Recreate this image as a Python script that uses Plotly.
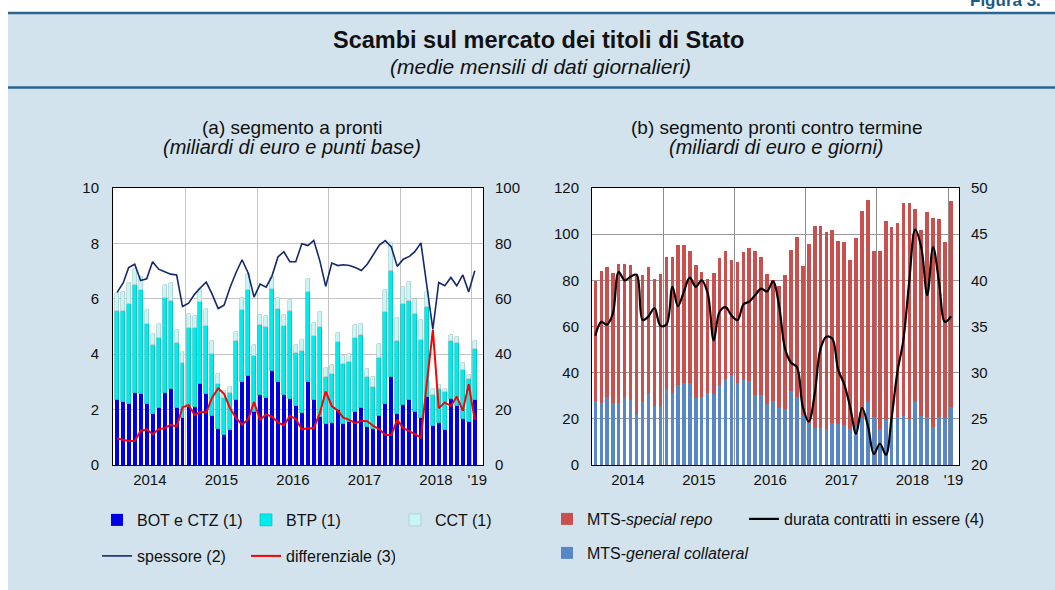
import plotly.graph_objects as go
import pandas as pd

W, H = 1055, 590

# ---------------- data ----------------
months = pd.date_range("2014-01-01", periods=61, freq="MS")
x_mid = months + pd.Timedelta(days=15)

# (a) segmento a pronti - miliardi di euro
bot_ctz = [2.33, 2.29, 2.20, 2.60, 2.57, 2.20, 1.84, 2.07, 2.60, 2.75, 2.04, 1.71,
           2.10, 2.10, 2.94, 2.57, 1.78, 1.30, 1.10, 1.27, 2.33, 2.98, 3.22, 1.90,
           2.53, 2.42, 3.40, 3.00, 2.53, 2.39, 2.13, 1.88, 3.00, 2.35, 1.75, 1.48,
           1.52, 1.99, 1.48, 1.55, 1.92, 2.06, 1.37, 1.29, 1.77, 2.20, 3.19, 1.85,
           2.17, 2.33, 1.93, 1.71, 2.46, 1.42, 1.52, 1.28, 2.39, 2.13, 1.67, 1.57, 2.33]
btp = [3.24, 3.28, 3.63, 3.89, 3.76, 2.90, 2.49, 2.50, 3.42, 3.18, 2.38, 1.99,
       2.85, 2.83, 2.94, 2.45, 2.24, 1.62, 1.32, 1.32, 2.14, 2.60, 3.11, 2.05,
       2.52, 2.58, 2.95, 2.63, 2.49, 3.16, 1.92, 2.25, 3.25, 2.32, 3.23, 1.70,
       1.78, 2.44, 2.16, 2.18, 2.68, 2.65, 1.81, 1.53, 2.09, 3.32, 3.82, 2.64,
       3.64, 3.59, 3.52, 2.82, 3.25, 1.11, 1.22, 1.35, 2.07, 2.27, 1.77, 1.52, 1.87]
cct = [0.63, 0.67, 0.74, 0.58, 0.47, 0.49, 0.40, 0.51, 0.47, 0.64, 0.45, 0.37,
       0.50, 0.46, 0.48, 0.61, 0.45, 0.37, 0.25, 0.24, 0.33, 0.46, 0.57, 0.38,
       0.36, 0.39, 0.43, 0.39, 0.39, 0.40, 0.28, 0.37, 0.46, 0.44, 0.56, 0.34,
       0.30, 0.35, 0.28, 0.27, 0.45, 0.37, 0.28, 0.35, 0.50, 0.79, 1.00, 0.81,
       0.61, 0.68, 0.54, 0.70, 0.53, 0.20, 0.14, 0.10, 0.24, 0.21, 0.24, 0.16, 0.27]
# punti base
spessore = [62.3, 65.7, 71.3, 72.5, 66.6, 67.2, 73.4, 70.7, 69.8, 68.9, 68.6, 57.2,
            58.4, 61.7, 63.9, 66.0, 61.7, 56.5, 57.7, 64.2, 69.6, 74.1, 69.3, 60.6,
            65.3, 64.2, 68.1, 75.1, 77.0, 73.4, 73.4, 79.9, 79.2, 81.1, 73.7, 64.5,
            72.9, 72.0, 72.3, 72.0, 71.3, 70.2, 72.5, 75.9, 79.4, 81.0, 78.7, 71.7,
            74.3, 75.3, 77.0, 80.2, 64.5, 49.0, 65.9, 64.7, 67.7, 64.7, 68.6, 62.5, 70.1]
differenziale = [9.6, 9.0, 8.7, 8.7, 12.3, 12.9, 11.1, 12.9, 13.3, 14.5, 13.9, 20.8,
                 21.7, 18.0, 19.2, 19.0, 24.3, 27.7, 25.7, 20.4, 16.9, 14.5, 16.5, 22.7,
                 16.3, 18.3, 17.5, 15.4, 14.3, 17.7, 16.7, 12.9, 13.3, 13.3, 18.7, 26.6,
                 21.3, 19.6, 17.1, 16.3, 15.1, 16.0, 15.8, 14.1, 12.9, 10.8, 10.8, 16.3,
                 13.3, 12.2, 11.2, 9.9, 29.5, 48.8, 20.5, 22.6, 21.3, 24.7, 19.6, 29.2, 16.3]

# (b) segmento pronti contro termine - miliardi di euro
general_collateral = [27.9, 26.7, 29.3, 26.7, 26.7, 29.2, 28.3, 22.1, 27.1, 30.6, 25.7, 25.7,
                      33.1, 31.2, 34.5, 35.4, 35.4, 29.2, 29.3, 31.0, 30.6, 34.5, 37.1, 38.8,
                      35.4, 36.8, 36.4, 30.3, 30.3, 26.4, 27.7, 24.5, 24.1, 32.1, 29.5, 21.5,
                      18.3, 15.9, 15.9, 15.6, 18.1, 17.9, 17.2, 15.7, 16.9, 20.4, 27.9, 20.6,
                      15.7, 19.9, 19.9, 20.9, 21.2, 19.8, 27.6, 21.2, 20.6, 16.6, 20.9, 20.2, 25.0]
special_repo = [51.8, 57.5, 56.6, 56.6, 60.4, 57.9, 58.3, 59.8, 55.2, 55.2, 54.7, 57.0,
                56.9, 58.8, 60.8, 59.9, 57.3, 57.3, 54.5, 49.4, 52.4, 55.2, 55.8, 50.0,
                52.4, 55.5, 57.8, 62.4, 59.7, 56.2, 52.4, 53.0, 58.1, 60.9, 69.1, 64.6,
                77.6, 87.6, 87.6, 85.2, 83.7, 79.1, 79.3, 73.1, 81.6, 89.8, 86.9, 72.3,
                77.0, 85.8, 83.1, 83.8, 92.2, 93.6, 83.4, 80.6, 89.0, 90.4, 85.5, 76.6, 89.4]
# giorni
durata = [34.0, 35.5, 35.2, 36.4, 40.9, 40.0, 40.4, 40.6, 35.7, 36.1, 37.0, 35.1,
          35.2, 39.3, 37.2, 38.8, 40.3, 39.3, 40.0, 38.6, 33.5, 36.6, 37.1, 36.2,
          35.7, 37.4, 37.7, 38.4, 39.1, 38.8, 39.9, 37.3, 32.6, 31.1, 30.6, 26.3,
          24.7, 27.8, 32.5, 33.9, 33.7, 30.3, 28.8, 26.3, 23.4, 26.2, 24.2, 21.2,
          22.3, 21.1, 24.9, 30.1, 33.5, 40.0, 45.5, 43.6, 38.4, 43.6, 39.7, 35.5, 36.1]

year_ticks = ["2014-07-02", "2015-07-02", "2016-07-02", "2017-07-02", "2018-07-02", "2019-01-29"]
year_labels = ["2014", "2015", "2016", "2017", "2018", "'19"]
year_bounds = ["2015-01-01", "2016-01-01", "2017-01-01", "2018-01-01", "2019-01-01"]

# ---------------- style ----------------
FONT = "Liberation Sans, Arial, Helvetica, sans-serif"
BG = "#d2e3ed"
RULE = "#2a6690"
TXT = "#111111"
DAY = 86400000


def px(p):
    return p / W


def py(p):
    return 1 - p / H


fig = go.Figure()

# left panel bars
fig.add_trace(go.Bar(x=x_mid, y=bot_ctz, name="BOT e CTZ (1)", marker=dict(color="#0000e6", line=dict(width=0)),
                     width=20 * DAY, xaxis="x", yaxis="y", legend="legend"))
fig.add_trace(go.Bar(x=x_mid, y=btp, name="BTP (1)", marker=dict(color="#00ecec", line=dict(width=0.6, color="#00b4b4")),
                     width=20 * DAY, xaxis="x", yaxis="y", legend="legend"))
fig.add_trace(go.Bar(x=x_mid, y=cct, name="CCT (1)", marker=dict(color="#c8f6f6", line=dict(width=0.6, color="#9cc4c4")),
                     width=20 * DAY, xaxis="x", yaxis="y", legend="legend"))
fig.add_trace(go.Scatter(x=x_mid, y=spessore, name="spessore (2)", mode="lines",
                         line=dict(color="#14286e", width=1.6), xaxis="x", yaxis="y2", legend="legend2"))
fig.add_trace(go.Scatter(x=x_mid, y=differenziale, name="differenziale (3)", mode="lines",
                         line=dict(color="#ff0000", width=2), xaxis="x", yaxis="y2", legend="legend2"))

# right panel
fig.add_trace(go.Bar(x=x_mid, y=general_collateral, name="MTS-<i>general collateral</i>",
                     marker=dict(color="#5787c6", line=dict(width=0)), legendwidth=220,
                     width=18 * DAY, xaxis="x2", yaxis="y3", legend="legend4"))
fig.add_trace(go.Bar(x=x_mid, y=special_repo, name="MTS-<i>special repo</i>",
                     marker=dict(color="#c8504f", line=dict(width=0)),
                     width=18 * DAY, xaxis="x2", yaxis="y3", legend="legend3"))
fig.add_trace(go.Scatter(x=x_mid, y=durata, name="durata contratti in essere (4)", mode="lines",
                         line=dict(color="#000000", width=2.2, shape="spline", smoothing=1),
                         legendwidth=240, xaxis="x2", yaxis="y4", legend="legend3"))

tickfont = dict(family=FONT, size=15, color=TXT)
left_dom_x = [px(113), px(483)]
right_dom_x = [px(592), px(959)]
dom_y = [py(465), py(188)]


def xaxis_cfg(domain, anchor, rng, gridcol):
    return dict(domain=domain, anchor=anchor, type="date", range=rng, automargin=False,
                tickmode="array", tickvals=year_ticks, ticktext=year_labels,
                showgrid=False, ticks="", ticklabelstandoff=1,
                minor=dict(tickvals=year_bounds, showgrid=True, gridcolor=gridcol, gridwidth=1, ticks=""),
                showline=True, linecolor="#000000", linewidth=1, mirror=True,
                tickfont=tickfont, zeroline=False, fixedrange=True)


fig.update_layout(
    template="none",
    width=W, height=H,
    margin=dict(l=0, r=0, t=0, b=0, pad=0),
    paper_bgcolor=BG, plot_bgcolor="#ffffff",
    barmode="stack", bargap=0,
    font=dict(family=FONT, size=15, color=TXT),
    showlegend=True,
    title=dict(text="<b>Figura 3.</b>", xref="container", yref="container", x=px(970), xanchor="left",
               y=1.0, yanchor="middle", automargin=False, font=dict(family=FONT, size=17, color="#1d5a86")),
    xaxis=xaxis_cfg(left_dom_x, "y", ["2013-12-26", "2019-02-27"], "#c4c4c4"),
    yaxis=dict(domain=dom_y, anchor="x", range=[0, 10], dtick=2, tick0=0, automargin=False,
               showgrid=True, gridcolor="#c4c4c4", gridwidth=1, zeroline=False,
               showline=True, linecolor="#000000", mirror=True, ticks="",
               ticklabelstandoff=10, tickfont=tickfont),
    yaxis2=dict(overlaying="y", side="right", anchor="x", range=[0, 100], dtick=20, tick0=0, automargin=False,
                showgrid=False, zeroline=False, showline=False, ticks="",
                ticklabelstandoff=11, tickfont=tickfont),
    xaxis2=xaxis_cfg(right_dom_x, "y3", ["2013-12-30", "2019-02-26"], "#8c8c8c"),
    yaxis3=dict(domain=dom_y, anchor="x2", range=[0, 120], dtick=20, tick0=0, automargin=False,
                showgrid=True, gridcolor="#9a9a9a", gridwidth=1, zeroline=False,
                showline=True, linecolor="#000000", mirror=True, ticks="",
                ticklabelstandoff=9, tickfont=tickfont),
    yaxis4=dict(overlaying="y3", side="right", anchor="x2", range=[20, 50], dtick=5, tick0=20, automargin=False,
                showgrid=False, zeroline=False, showline=False, ticks="",
                ticklabelstandoff=11, tickfont=tickfont),
)

legfont = dict(family=FONT, size=16, color=TXT)
common_leg = dict(orientation="h", xanchor="left", yanchor="middle", bgcolor="rgba(0,0,0,0)",
                  borderwidth=0, font=legfont, traceorder="normal", entrywidthmode="pixels")
fig.update_layout(
    legend=dict(x=px(97), y=py(520), entrywidth=104, **common_leg),
    legend2=dict(x=px(97), y=py(556), entrywidth=104, **common_leg),
    legend3=dict(x=px(547), y=py(519), entrywidth=152, **common_leg),
    legend4=dict(x=px(547), y=py(553), entrywidth=152, **common_leg),
)

# header / panel decorations
fig.add_shape(type="rect", xref="paper", yref="paper", x0=0, x1=px(8), y0=0, y1=1,
              fillcolor="#ffffff", line=dict(width=0), layer="below")
fig.add_shape(type="rect", xref="paper", yref="paper", x0=0, x1=1, y0=py(12), y1=1,
              fillcolor="#ffffff", line=dict(width=0), layer="below")
fig.add_shape(type="line", xref="paper", yref="paper", x0=px(8), x1=1, y0=py(13), y1=py(13),
              line=dict(color=RULE, width=2.5))
fig.add_shape(type="line", xref="paper", yref="paper", x0=px(8), x1=1, y0=py(87.5), y1=py(87.5),
              line=dict(color=RULE, width=2.5))

annotations = [
    dict(text="<b>Scambi sul mercato dei titoli di Stato</b>", x=px(539), y=py(40),
         xanchor="center", yanchor="middle", font=dict(family=FONT, size=23.5, color=TXT)),
    dict(text="<i>(medie mensili di dati giornalieri)</i>", x=px(540), y=py(66),
         xanchor="center", yanchor="middle", font=dict(family=FONT, size=21, color=TXT)),
    dict(text="(a) segmento a pronti", x=px(292), y=py(127), xanchor="center", yanchor="middle",
         font=dict(family=FONT, size=19, color=TXT)),
    dict(text="<i>(miliardi di euro e punti base)</i>", x=px(292), y=py(147), xanchor="center",
         yanchor="middle", font=dict(family=FONT, size=20, color=TXT)),
    dict(text="(b) segmento pronti contro termine", x=px(776), y=py(127), xanchor="center",
         yanchor="middle", font=dict(family=FONT, size=19, color=TXT)),
    dict(text="<i>(miliardi di euro e giorni)</i>", x=px(776), y=py(147), xanchor="center",
         yanchor="middle", font=dict(family=FONT, size=20, color=TXT)),
]
for a in annotations:
    a.update(xref="paper", yref="paper", showarrow=False)
fig.update_layout(annotations=annotations)

fig.write_html("out.html", config={"displayModeBar": False},
               post_script="document.body.style.margin='0';document.body.style.overflow='hidden';")
